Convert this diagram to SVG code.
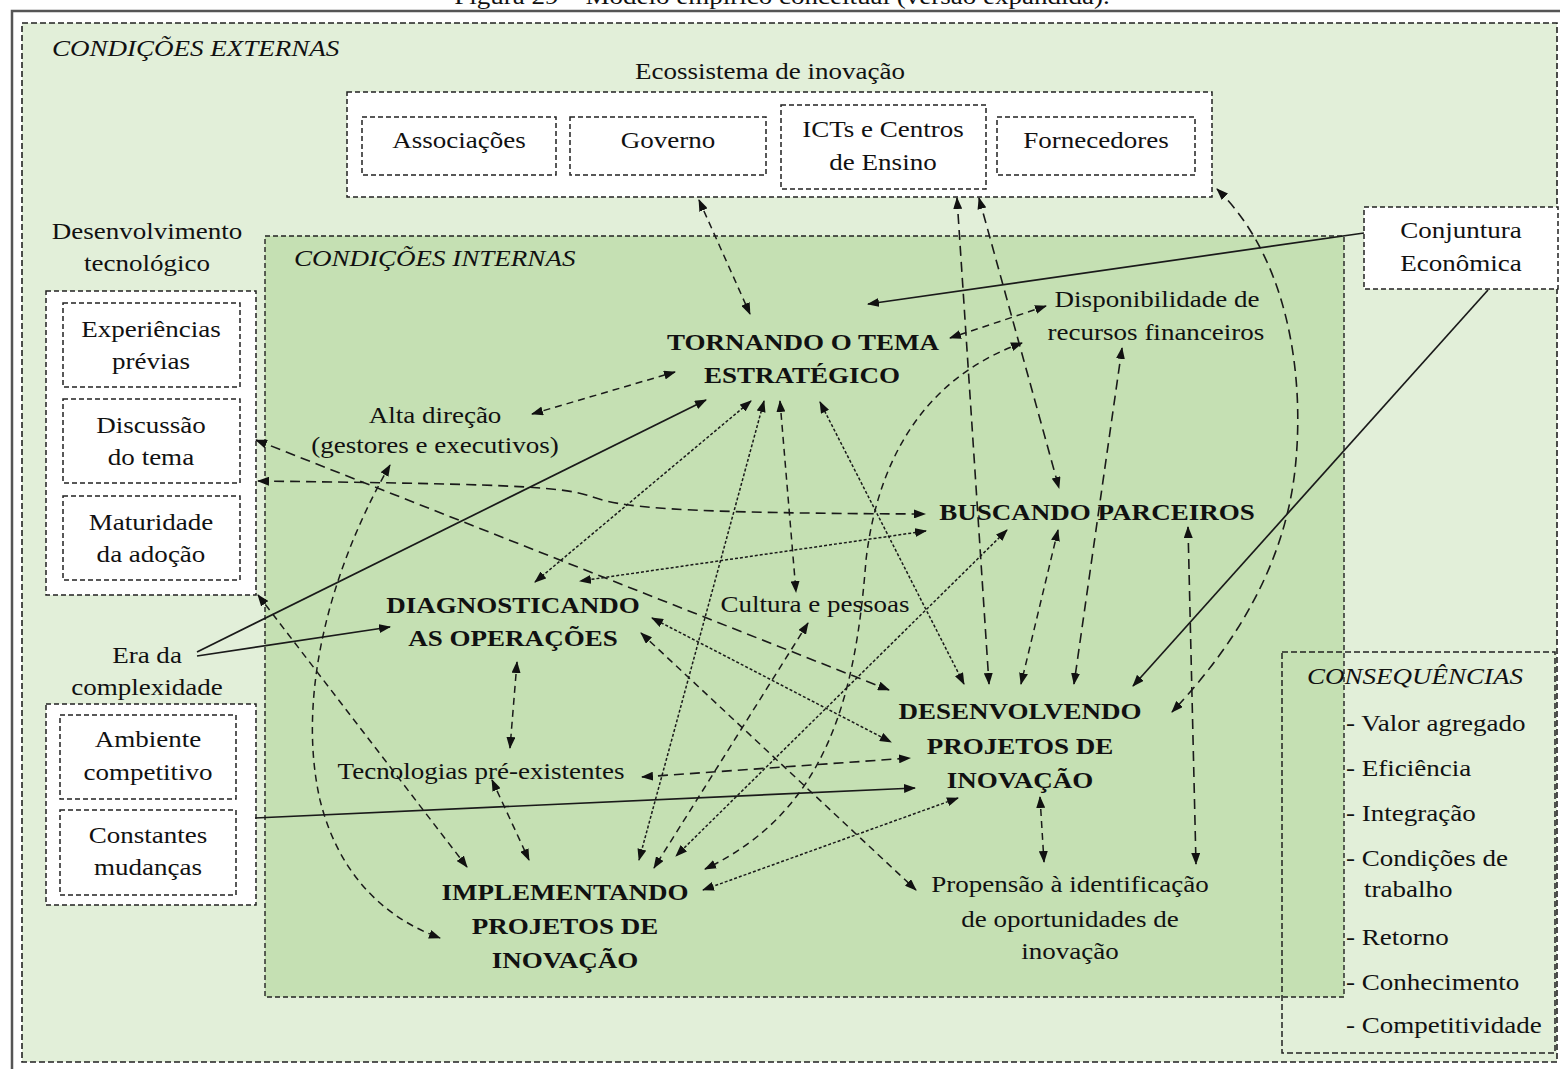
<svg xmlns="http://www.w3.org/2000/svg" width="1560" height="1069" viewBox="0 0 1560 1069">
<defs>
<style>
.t{font-family:"Liberation Serif","Times New Roman",serif;font-size:23.5px;fill:#111;text-anchor:middle}
.s{text-anchor:start}
.b{font-weight:bold}
.i{font-style:italic}
.box{fill:#fff;stroke:#222;stroke-width:1.5;stroke-dasharray:5 3}
.c{fill:none;stroke:#1a1a1a}
.lg{stroke-width:1.6;stroke-dasharray:10 6}
.md{stroke-width:1.5;stroke-dasharray:7 5}
.dt{stroke-width:1.5;stroke-dasharray:3 2}
.sl{stroke-width:1.7}
.two{marker-start:url(#ah);marker-end:url(#ah)}
.one{marker-end:url(#ah)}
</style>
<marker id="ah" viewBox="0 0 12 9" refX="11" refY="4.5" markerWidth="12" markerHeight="9" markerUnits="userSpaceOnUse" orient="auto-start-reverse">
<path d="M0,0 L12,4.5 L0,9 z" fill="#111"/>
</marker>
</defs>
<rect width="1560" height="1069" fill="#fff"/>
<text class="t" transform="translate(782 4) scale(1.15 1)">Figura 29 – Modelo empírico conceitual (versão expandida).</text>
<path d="M12,1069 L12,11 L1560,11" fill="none" stroke="#555" stroke-width="2.5"/>

<g id="condicoes-externas">
<rect x="22" y="23" width="1535" height="1039" fill="#e2efd9" stroke="#222" stroke-width="1.6" stroke-dasharray="6 3"/>
<text class="t s i" transform="translate(52 56) scale(1.15 1)">CONDIÇÕES EXTERNAS</text>
</g>

<g id="condicoes-internas">
<rect x="265" y="236" width="1079" height="761" fill="#c5e0b3" stroke="#222" stroke-width="1.4" stroke-dasharray="5 3"/>
<text class="t s i" transform="translate(294 266) scale(1.15 1)">CONDIÇÕES INTERNAS</text>
</g>

<g id="consequencias">
<rect x="1282" y="652" width="273" height="401" fill="none" stroke="#222" stroke-width="1.5" stroke-dasharray="6 3"/>
<text class="t s i" transform="translate(1307 684) scale(1.15 1)">CONSEQUÊNCIAS</text>
<text class="t s" transform="translate(1346 731) scale(1.15 1)">- Valor agregado</text>
<text class="t s" transform="translate(1346 776) scale(1.15 1)">- Eficiência</text>
<text class="t s" transform="translate(1346 821) scale(1.15 1)">- Integração</text>
<text class="t s" transform="translate(1346 866) scale(1.15 1)">- Condições de</text>
<text class="t s" transform="translate(1364 897) scale(1.15 1)">trabalho</text>
<text class="t s" transform="translate(1346 945) scale(1.15 1)">- Retorno</text>
<text class="t s" transform="translate(1346 990) scale(1.15 1)">- Conhecimento</text>
<text class="t s" transform="translate(1346 1033) scale(1.15 1)">- Competitividade</text>
</g>

<g id="ecossistema">
<text class="t" transform="translate(770 79) scale(1.15 1)">Ecossistema de inovação</text>
<rect class="box" x="347" y="92" width="865" height="105"/>
</g>
<g id="associacoes">
<rect class="box" x="362" y="117" width="194" height="58"/>
<text class="t" transform="translate(459 148) scale(1.15 1)">Associações</text>
</g>
<g id="governo">
<rect class="box" x="570" y="117" width="196" height="58"/>
<text class="t" transform="translate(668 148) scale(1.15 1)">Governo</text>
</g>
<g id="icts">
<rect class="box" x="781" y="105" width="205" height="84"/>
<text class="t" transform="translate(883 137) scale(1.15 1)">ICTs e Centros</text>
<text class="t" transform="translate(883 170) scale(1.15 1)">de Ensino</text>
</g>
<g id="fornecedores">
<rect class="box" x="997" y="117" width="198" height="58"/>
<text class="t" transform="translate(1096 148) scale(1.15 1)">Fornecedores</text>
</g>

<g id="conjuntura">
<rect class="box" x="1364" y="207" width="194" height="82"/>
<text class="t" transform="translate(1461 238) scale(1.15 1)">Conjuntura</text>
<text class="t" transform="translate(1461 271) scale(1.15 1)">Econômica</text>
</g>

<g id="desenvolvimento-tecnologico">
<text class="t" transform="translate(147 239) scale(1.15 1)">Desenvolvimento</text>
<text class="t" transform="translate(147 271) scale(1.15 1)">tecnológico</text>
<rect class="box" x="46" y="291" width="210" height="304"/>
</g>
<g id="experiencias">
<rect class="box" x="63" y="303" width="177" height="84"/>
<text class="t" transform="translate(151 337) scale(1.15 1)">Experiências</text>
<text class="t" transform="translate(151 369) scale(1.15 1)">prévias</text>
</g>
<g id="discussao">
<rect class="box" x="63" y="399" width="177" height="84"/>
<text class="t" transform="translate(151 433) scale(1.15 1)">Discussão</text>
<text class="t" transform="translate(151 465) scale(1.15 1)">do tema</text>
</g>
<g id="maturidade">
<rect class="box" x="63" y="496" width="177" height="84"/>
<text class="t" transform="translate(151 530) scale(1.15 1)">Maturidade</text>
<text class="t" transform="translate(151 562) scale(1.15 1)">da adoção</text>
</g>

<g id="era-complexidade">
<text class="t" transform="translate(147 663) scale(1.15 1)">Era da</text>
<text class="t" transform="translate(147 695) scale(1.15 1)">complexidade</text>
<rect class="box" x="46" y="704" width="210" height="201"/>
</g>
<g id="ambiente">
<rect class="box" x="60" y="715" width="176" height="84"/>
<text class="t" transform="translate(148 747) scale(1.15 1)">Ambiente</text>
<text class="t" transform="translate(148 780) scale(1.15 1)">competitivo</text>
</g>
<g id="constantes">
<rect class="box" x="60" y="810" width="176" height="85"/>
<text class="t" transform="translate(148 843) scale(1.15 1)">Constantes</text>
<text class="t" transform="translate(148 875) scale(1.15 1)">mudanças</text>
</g>

<g id="tornando">
<text class="t b" transform="translate(803 350) scale(1.15 1)">TORNANDO O TEMA</text>
<text class="t b" transform="translate(802 383) scale(1.15 1)">ESTRATÉGICO</text>
</g>
<g id="disponibilidade">
<text class="t" transform="translate(1157 307) scale(1.15 1)">Disponibilidade de</text>
<text class="t" transform="translate(1156 340) scale(1.15 1)">recursos financeiros</text>
</g>
<g id="alta-direcao">
<text class="t" transform="translate(435 423) scale(1.15 1)">Alta direção</text>
<text class="t" transform="translate(435 453) scale(1.15 1)">(gestores e executivos)</text>
</g>
<g id="buscando">
<text class="t b" transform="translate(1097 520) scale(1.15 1)">BUSCANDO PARCEIROS</text>
</g>
<g id="diagnosticando">
<text class="t b" transform="translate(513 613) scale(1.15 1)">DIAGNOSTICANDO</text>
<text class="t b" transform="translate(513 646) scale(1.15 1)">AS OPERAÇÕES</text>
</g>
<g id="cultura">
<text class="t" transform="translate(815 612) scale(1.15 1)">Cultura e pessoas</text>
</g>
<g id="desenvolvendo">
<text class="t b" transform="translate(1020 719) scale(1.15 1)">DESENVOLVENDO</text>
<text class="t b" transform="translate(1020 754) scale(1.15 1)">PROJETOS DE</text>
<text class="t b" transform="translate(1020 788) scale(1.15 1)">INOVAÇÃO</text>
</g>
<g id="tecnologias">
<text class="t" transform="translate(481 779) scale(1.15 1)">Tecnologias pré-existentes</text>
</g>
<g id="implementando">
<text class="t b" transform="translate(565 900) scale(1.15 1)">IMPLEMENTANDO</text>
<text class="t b" transform="translate(565 934) scale(1.15 1)">PROJETOS DE</text>
<text class="t b" transform="translate(565 968) scale(1.15 1)">INOVAÇÃO</text>
</g>
<g id="propensao">
<text class="t" transform="translate(1070 892) scale(1.15 1)">Propensão à identificação</text>
<text class="t" transform="translate(1070 927) scale(1.15 1)">de oportunidades de</text>
<text class="t" transform="translate(1070 959) scale(1.15 1)">inovação</text>
</g>

<g id="connectors">
<path class="c md two" d="M699,200 L750,314"/>
<path class="c lg two" d="M957,198 L989,684"/>
<path class="c lg two" d="M979,198 L1059,488"/>
<path class="c md two" d="M1058,530 L1021,684"/>
<path class="c lg two" d="M1122,348 L1074,684"/>
<path class="c sl one" d="M1488,290 L1133,686"/>
<path class="c dt two" d="M820,402 L964,684"/>
<path class="c lg two" d="M1217,189 C1290,260 1305,380 1295,470 C1285,560 1240,640 1172,712"/>
<path class="c md two" d="M1046,306 L950,338"/>
<path class="c sl one" d="M1364,233 L868,304"/>
<path class="c md two" d="M1022,343 C940,372 880,440 866,560 C856,690 830,810 705,869"/>
<path class="c dt two" d="M958,798 L703,890"/>
<path class="c lg two" d="M642,777 L910,758"/>
<path class="c sl one" d="M255,818 L915,788"/>
<path class="c md two" d="M1040,797 L1044,862"/>
<path class="c lg two" d="M1188,527 L1196,864"/>
<path class="c md two" d="M641,633 L916,890"/>
<path class="c dt two" d="M652,618 L891,742"/>
<path class="c lg two" d="M256,440 L889,690"/>
<path class="c lg two" d="M258,481 C500,484 560,486 590,496 C620,507 660,513 925,514"/>
<path class="c md two" d="M532,414 L675,372"/>
<path class="c md two" d="M390,465 C335,560 295,690 320,800 C340,880 390,920 440,938"/>
<path class="c md two" d="M258,595 L467,867"/>
<path class="c sl one" d="M197,652 L706,400"/>
<path class="c sl one" d="M197,656 L390,627"/>
<path class="c dt two" d="M751,401 L535,582"/>
<path class="c dt two" d="M926,531 L580,581"/>
<path class="c dt two" d="M764,401 L639,860"/>
<path class="c md two" d="M780,401 L796,592"/>
<path class="c md two" d="M808,623 L654,868"/>
<path class="c dt two" d="M1007,530 L676,856"/>
<path class="c md two" d="M517,662 L510,748"/>
<path class="c md two" d="M492,780 L529,860"/>
</g>
</svg>
